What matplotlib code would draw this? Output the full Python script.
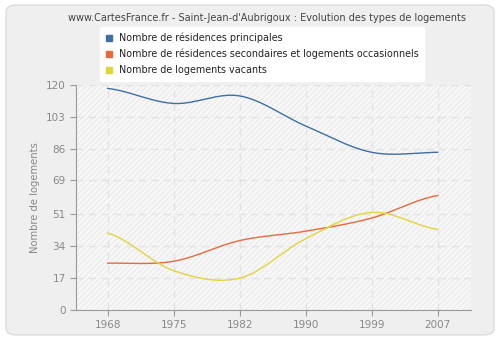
import numpy as np
import matplotlib
matplotlib.use("Agg")
import matplotlib.pyplot as plt
from matplotlib.patches import FancyBboxPatch, Rectangle
from matplotlib.lines import Line2D

years = ["1968", "1975", "1982", "1990", "1999", "2007"]
principales = [118, 110, 114, 98, 84, 84]
secondaires = [25, 26, 37, 42, 49, 61]
vacants = [41, 21, 17, 38, 52, 43]

yticks = [0, 17, 34, 51, 69, 86, 103, 120]
colors = ["#3d6fa6", "#e8693b", "#e3d43c"]
labels = [
    "Nombre de résidences principales",
    "Nombre de résidences secondaires et logements occasionnels",
    "Nombre de logements vacants",
]
title = "www.CartesFrance.fr - Saint-Jean-d'Aubrigoux : Evolution des types de logements"


def smooth(y, n=40):
    # Catmull-Rom curve through equally spaced points
    y = np.asarray(y, dtype=float)
    k = len(y)
    m = np.zeros(k)
    m[1:-1] = (y[2:] - y[:-2]) / 2
    m[0] = (y[1] - y[0]) / 2
    m[-1] = (y[-1] - y[-2]) / 2
    xs, ys = [], []
    for i in range(k - 1):
        t = np.linspace(0, 1, n)
        h00 = 2 * t ** 3 - 3 * t ** 2 + 1
        h10 = t ** 3 - 2 * t ** 2 + t
        h01 = -2 * t ** 3 + 3 * t ** 2
        h11 = t ** 3 - t ** 2
        xs.append(i + t)
        ys.append(h00 * y[i] + h10 * m[i] + h01 * y[i + 1] + h11 * m[i + 1])
    return np.concatenate(xs), np.concatenate(ys)


fig = plt.figure(figsize=(5, 3.4), dpi=100)
fig.patch.set_facecolor("white")

# rounded grey panel behind everything
bg = fig.add_axes([0, 0, 1, 1], zorder=-10)
bg.set_axis_off()
bg.add_patch(FancyBboxPatch((0.012, 0.015), 0.976, 0.97,
                            boxstyle="round,pad=0,rounding_size=0.02",
                            transform=bg.transAxes, facecolor="#efefef",
                            edgecolor="#dcdcdc", linewidth=1))

ax = fig.add_axes([0.152, 0.088, 0.79, 0.663])
ax.set_facecolor("#f8f8f8")
ax.add_patch(Rectangle((0, 0), 1, 1, transform=ax.transAxes, facecolor="none",
                       edgecolor="#ececec", hatch="//////", linewidth=0, zorder=0))

for vals, c in zip([principales, secondaires, vacants], colors):
    xs, ys = smooth(vals)
    ax.plot(xs, ys, color=c, linewidth=1, zorder=3)

ax.set_xlim(-0.48, 5.505)
ax.set_ylim(0, 120)
ax.set_xticks(range(len(years)))
ax.set_xticklabels(years)
ax.set_yticks(yticks)
ax.grid(True, color="#e2e2e2", linestyle=(0, (5, 4)), linewidth=1)
ax.set_axisbelow(True)
for s in ["top", "right"]:
    ax.spines[s].set_visible(False)
for s in ["left", "bottom"]:
    ax.spines[s].set_color("#999999")
ax.tick_params(colors="#999999", labelcolor="#888888", labelsize=7.5, length=4)
ax.set_ylabel("Nombre de logements", color="#888888", fontsize=7.2)

fig.text(0.534, 0.948, title, ha="center", va="center", fontsize=7.0, color="#444444")

handles = [Line2D([], [], marker="s", linestyle="none", markersize=4.5,
                  markerfacecolor=c, markeredgecolor=c) for c in colors]
leg = fig.legend(handles, labels, loc="upper left", bbox_to_anchor=(0.19, 0.935),
                 fontsize=6.9, frameon=True, fancybox=True, handlelength=0.8,
                 handletextpad=0.6, labelspacing=0.6, borderpad=0.6)
leg.get_frame().set_facecolor("white")
leg.get_frame().set_edgecolor("white")
leg.get_frame().set_alpha(1)
for t in leg.get_texts():
    t.set_color("#222222")

fig.savefig("out.png", dpi=100, facecolor=fig.get_facecolor())
